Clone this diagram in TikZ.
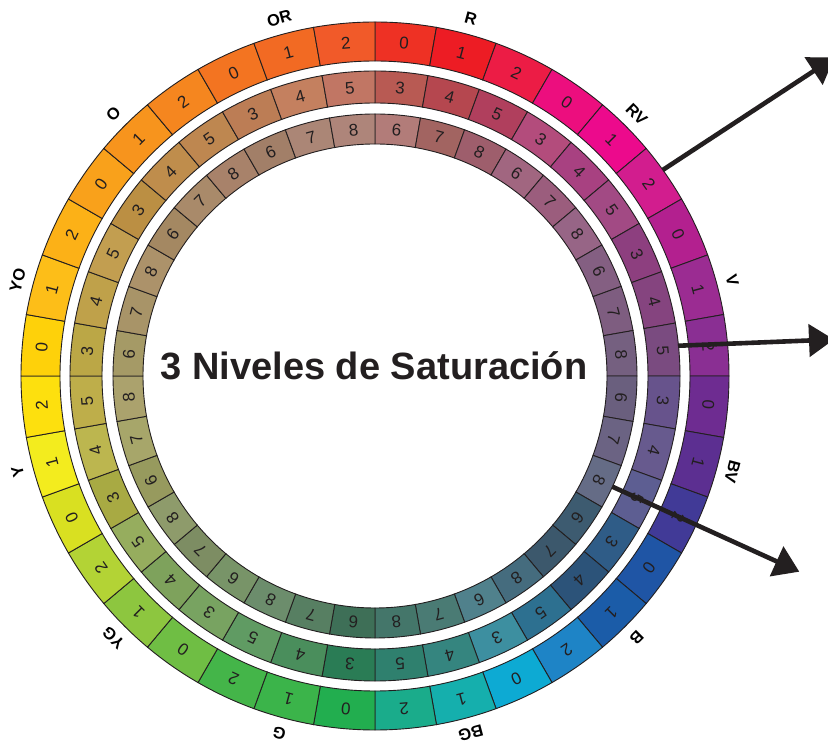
\documentclass[tikz,border=0pt]{standalone}
\usepackage{fontspec}
\setmainfont{Liberation Sans}
\usetikzlibrary{arrows.meta}
\definecolor{ink}{HTML}{231F20}
\newcommand\drawring[4]{%
  \foreach \c [count=\i from 0] in {#4} {
    \definecolor{segc}{HTML}{\c}
    \pgfmathtruncatemacro\d{#3+mod(\i,3)}
    \filldraw[seg, fill=segc] ({90-10*\i}:#2) arc[start angle={90-10*\i}, end angle={80-10*\i}, radius=#2pt]
      -- ({80-10*\i}:#1) arc[start angle={80-10*\i}, end angle={90-10*\i}, radius=#1pt] -- cycle;
    \node[numlab, rotate={-10*\i-5}] (n#3-\i) at ({85-10*\i}:{(#1+#2)/2}) {\d};
  }}
\begin{document}
\begin{tikzpicture}[x=1pt,y=1pt,
  seg/.style={draw=ink, line width=0.9pt},
  numlab/.style={font=\fontsize{17}{17}\selectfont, text=ink, inner sep=0pt},
  huelab/.style={font=\bfseries\fontsize{16.5}{16.5}\selectfont, text=black, inner sep=0pt},
  bigarrow/.style={draw=ink, line width=4.6pt, -{Triangle[length=25pt,width=32pt]}}
]
\useasboundingbox (0,0) rectangle (828,744);
\fill[white] (0,0) rectangle (828,744);
\begin{scope}[shift={(375,368)}]
  \drawring{315}{354}{0}{EE3124,ED1C24,EC1C45,EC0E7E,EC0A8C,D21D8E,B3208F,9B2C92,8A2F93,6E2C91,5C2F91,413A97,1F55A5,1B5CA8,1E84C6,0DAAD3,15AFAD,1AAC8B,22AE4F,3BB44A,44B549,6FBE44,8DC63F,B3D335,D9E021,F3EC1E,FDE00E,FED10A,FDBE18,FCB117,F9A11B,F7941D,F5861F,F37421,F26A23,F15A29}
  \drawring{273}{305}{3}{B85A53,B5474F,B03F5D,B34C7C,A84181,A24A84,8D3F7F,85447F,7A4B80,67538C,675A8E,5D5E92,2F5C87,2C5379,2D7090,3D8FA0,35857F,2F806E,2A7C55,4A8E5C,609B63,78A361,7EA25C,96AD5E,A8AA43,BCB64F,BEAE4A,BBA746,BFA14A,C29E50,BB8F43,BF8D4C,BE8750,BC7D55,C4805F,C17664}
  \drawring{232}{262}{6}{B27C79,A26461,9E5E6C,A16680,9B5D7D,976586,845F82,7E5D80,756080,6A5F7E,6B6383,656C86,3D5B70,3C586C,456C7E,50818C,4A7B74,44766A,3E6F57,577F62,6C8D6C,789468,7D8D63,8E9B6B,979A5E,A7A66A,ABA26D,A59A66,A89468,AC926A,A48862,A98A6A,A8826A,A27F68,AB8676,AE857A}
  \foreach \h [count=\k from 0] in {R,RV,V,BV,B,BG,G,YG,Y,YO,O,OR} {
    \node[huelab, rotate={-30*\k-15}] (h\k) at ({75-30*\k}:370) {\h};
  }
  \node[font=\bfseries\fontsize{38}{38}\selectfont, text=ink, anchor=base, inner sep=0pt] (title) at (-1,-4) {3 Niveles de Saturación};
  \coordinate (a1s) at (35.6:354);
  \coordinate (a2s) at (5.7:304.5);
  \coordinate (a3s) at (-25:261.7);
\end{scope}
\coordinate (a1e) at (834.5,686.6);
\coordinate (a2e) at (834,404.5);
\coordinate (a3e) at (799.3,172.3);
\draw[bigarrow] (a1s) -- (a1e);
\draw[bigarrow] (a2s) -- (a2e);
\draw[bigarrow] (a3s) -- (a3e);
\end{tikzpicture}
\end{document}
